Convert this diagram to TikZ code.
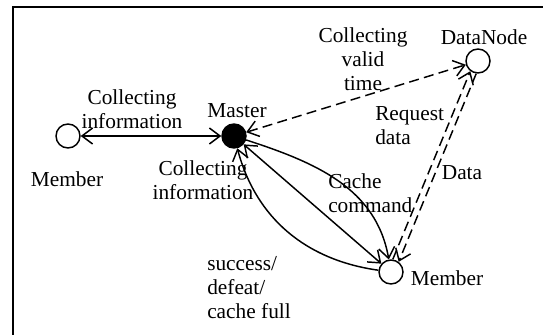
\documentclass[tikz,border=0pt]{standalone}
\usepackage{fontspec}
\setmainfont{Liberation Serif}
\usetikzlibrary{arrows.meta}
\begin{document}
\begin{tikzpicture}[x=0.75pt, y=-0.75pt, font=\fontsize{16}{18}\selectfont,
    >={Straight Barb[length=8pt,width=12pt]},
    state/.style={circle, draw, line width=1.1pt, minimum size=18pt, inner sep=0pt},
    lbl/.style={inner sep=0pt},
    link/.style={line width=1.1pt},
    dlink/.style={line width=1.1pt, dash pattern=on 7.5pt off 4pt}]
    \useasboundingbox (0,0) rectangle (543,335);
    \draw[line width=2pt] (13,7) rectangle (560,350);

    \node[state] (memberL) at (68,136) {};
    \node[state, fill] (master) at (234,136) {};
    \node[state] (datanode) at (478,61) {};
    \node[state] (memberR) at (391,272) {};

    \node[lbl] (nameMemberL) at (67,179) {Member};
    \node[lbl] (nameMaster) at (237,111) {Master};
    \node[lbl] (nameDataNode) at (484,37) {DataNode};
    \node[lbl] (nameMemberR) at (447,278) {Member};

    \node[lbl, align=center] (txtInfoL) at (132,109) {Collecting\\information};
    \node[lbl, align=center] (txtInfoM) at (203,180) {Collecting\\information};
    \node[lbl, align=center] (txtValid) at (363,59) {Collecting\\valid\\time};
    \node[lbl, align=left, anchor=west] (txtRequest) at (375,126) {Request\\data};
    \node[lbl] (txtData) at (462,173) {Data};
    \node[lbl, align=left, anchor=west] (txtCache) at (328,193) {Cache\\command};
    \node[lbl, align=left, anchor=west] (txtResult) at (207,288) {success/\\defeat/\\cache full};

    \draw[link, <->] (memberL) -- (master);
    \draw[dlink, <->] (master) -- (datanode);
    \draw[link, ->] (master) to[out=-18, in=100] (memberR);
    \draw[link, <->] (master) -- (memberR);
    \draw[link, ->] (memberR) to[out=172, in=-75] (master);
    \draw[dlink, ->] (memberR.82) -- (datanode.-127);
    \draw[dlink, ->] (datanode.-98) -- (memberR.53);
\end{tikzpicture}
\end{document}
